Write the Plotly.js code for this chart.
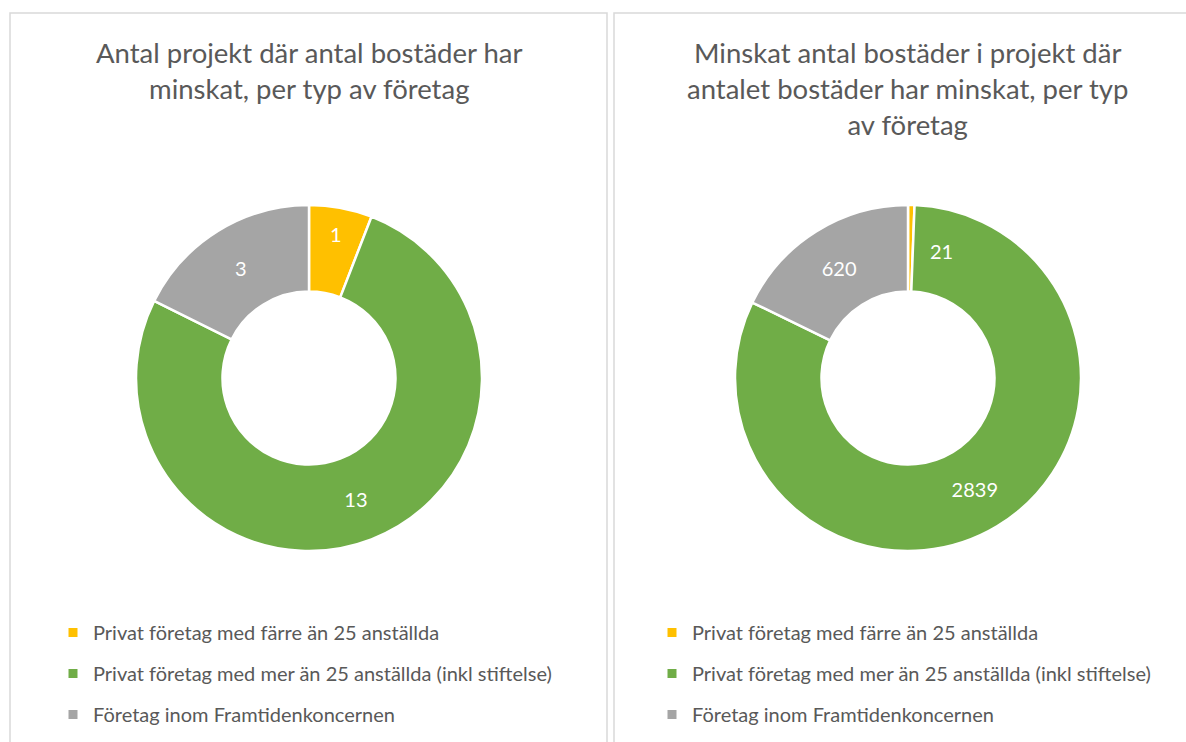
<!DOCTYPE html>
<html><head><meta charset="utf-8">
<script src="https://cdn.plot.ly/plotly-3.0.1.min.js"></script>
<style>html,body{margin:0;padding:0;background:#fff}</style>
</head><body><div id="chart" style="width:1186px;height:742px"></div>
<script>
const categories = [
  "Privat företag med färre än 25 anställda",
  "Privat företag med mer än 25 anställda (inkl stiftelse)",
  "Företag inom Framtidenkoncernen"
];
const projectCounts = [1, 13, 3];
const dwellingsReduced = [21, 2839, 620];
const titleLeft = "Antal projekt där antal bostäder har<br>minskat, per typ av företag";
const titleRight = "Minskat antal bostäder i projekt där<br>antalet bostäder har minskat, per typ<br>av företag";
const colors = ["#FFC000", "#70AD47", "#A5A5A5"];

const W = 1186, H = 742;
const px = x => x / W;
const py = y => 1 - y / H;
const FONT = "Lato, 'Open Sans', sans-serif";
const GREY = "#595959";

const pieCommon = {
  type: "pie", hole: 0.5, sort: false, direction: "clockwise", rotation: 0,
  marker: {colors: colors, line: {color: "#ffffff", width: 2.5}},
  textinfo: "value", insidetextorientation: "horizontal",
  textfont: {color: "#ffffff", size: 20, family: FONT},
  showlegend: false, hoverinfo: "label+value"
};

const traces = [
  Object.assign({}, pieCommon, {
    labels: categories, values: projectCounts,
    domain: {x: [px(136), px(482)], y: [py(551), py(205)]},
    textposition: "inside"
  }),
  Object.assign({}, pieCommon, {
    labels: categories, values: dwellingsReduced,
    domain: {x: [px(735), px(1081)], y: [py(551), py(205)]},
    textposition: ["none", "inside", "inside"]
  })
];

// legend entries (one per category, per chart)
["legend", "legend2"].forEach(lg => {
  categories.forEach((c, i) => {
    traces.push({
      type: "scatter", mode: "markers", x: [null], y: [null],
      name: c, legend: lg, legendgroup: lg + i,
      marker: {symbol: "square", size: 9, color: colors[i]},
      hoverinfo: "skip", showlegend: true
    });
  });
});

const legendCommon = {
  orientation: "v", xanchor: "left", yanchor: "top",
  font: {family: FONT, size: 20, color: GREY},
  bgcolor: "rgba(0,0,0,0)", tracegroupgap: 12, itemclick: false, itemdoubleclick: false
};

const layout = {
  width: W, height: H,
  margin: {l: 0, r: 0, t: 0, b: 0},
  paper_bgcolor: "#ffffff", plot_bgcolor: "#ffffff",
  xaxis: {visible: false}, yaxis: {visible: false},
  legend: Object.assign({}, legendCommon, {x: px(53), y: py(613)}),
  legend2: Object.assign({}, legendCommon, {x: px(652), y: py(613)}),
  shapes: [
    {type: "rect", xref: "paper", yref: "paper", x0: px(10), x1: px(607), y0: py(770), y1: py(13),
     line: {color: "#d9d9d9", width: 1.5}, fillcolor: "rgba(0,0,0,0)"},
    {type: "rect", xref: "paper", yref: "paper", x0: px(614), x1: px(1200), y0: py(770), y1: py(13),
     line: {color: "#d9d9d9", width: 1.5}, fillcolor: "rgba(0,0,0,0)"}
  ],
  annotations: [
    {text: titleLeft, xref: "paper", yref: "paper", x: px(309), y: py(34), xanchor: "center", yanchor: "top",
     showarrow: false, align: "center", font: {family: FONT, size: 27.5, color: GREY}},
    {text: titleRight, xref: "paper", yref: "paper", x: px(907), y: py(34), xanchor: "center", yanchor: "top",
     showarrow: false, align: "center", font: {family: FONT, size: 27.5, color: GREY}},
    {text: String(dwellingsReduced[0]), xref: "paper", yref: "paper", x: px(942), y: py(251),
     xanchor: "center", yanchor: "middle", showarrow: false,
     font: {family: FONT, size: 20, color: "#ffffff"}}
  ]
};

Plotly.newPlot("chart", traces, layout, {displayModeBar: false, staticPlot: true});
</script></body></html>
